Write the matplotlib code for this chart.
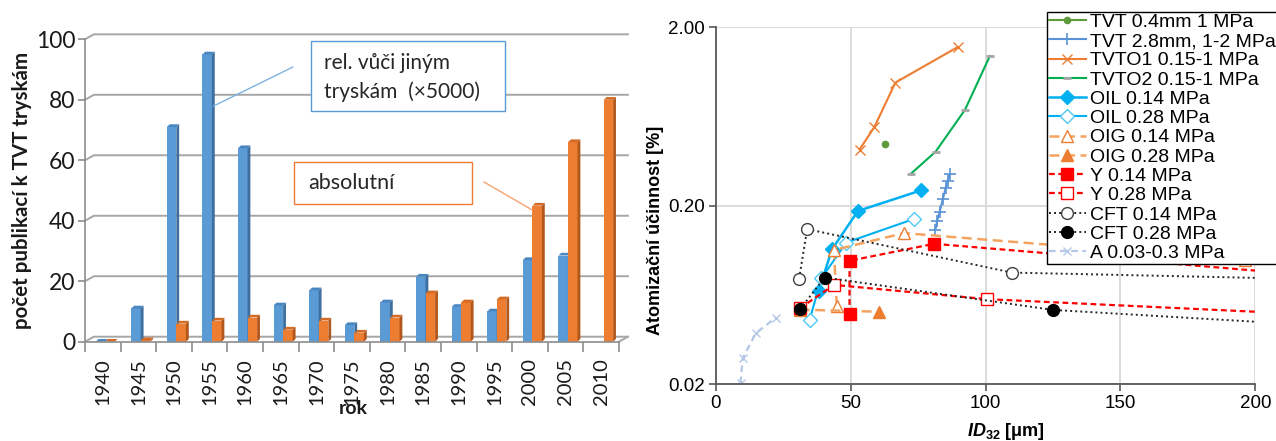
import numpy as np
import matplotlib
matplotlib.use("Agg")
import matplotlib.pyplot as plt
from matplotlib.patches import Polygon, Rectangle
from matplotlib.ticker import NullLocator

plt.rcParams['mathtext.fontset'] = 'custom'
plt.rcParams['mathtext.it'] = 'Liberation Sans:italic:bold'
plt.rcParams['mathtext.rm'] = 'Liberation Sans:bold'

# ---- left chart data (publications per 5 years) ----
years = ['1940', '1945', '1950', '1955', '1960', '1965', '1970', '1975',
         '1980', '1985', '1990', '1995', '2000', '2005', '2010']
rel_vals = [0, 11, 71, 95, 64, 12, 17, 5.5, 13, 21.5, 11.5, 10, 27, 28.5, np.nan]
abs_vals = [0, 0.5, 6, 7, 8, 4, 7, 3, 8, 16, 13, 14, 45, 66, 80]

# ---- right chart data (atomization efficiency vs ID32) ----
tvt04_x = [62.7]
tvt04_y = [0.445]
tvt28_x = [81.4, 82.1, 83.0, 84.2, 85.2, 86.0, 86.9]
tvt28_y = [0.146, 0.165, 0.185, 0.218, 0.251, 0.276, 0.301]
tvto1_x = [53.3, 58.8, 66.6, 89.7]
tvto1_y = [0.413, 0.552, 0.98, 1.55]
tvto2_x = [72.3, 81.5, 92.4, 101.6]
tvto2_y = [0.302, 0.402, 0.69, 1.38]
oil14_x = [38.2, 43.1, 52.7, 76.1]
oil14_y = [0.067, 0.114, 0.187, 0.244]
oil28_x = [34.8, 39.2, 48.4, 73.6]
oil28_y = [0.0459, 0.0786, 0.1245, 0.169]
oig14_x = [44.9, 43.8, 69.8, 196]
oig14_y = [0.055, 0.113, 0.1406, 0.099]
oig28_x = [31.1, 60.7]
oig28_y = [0.0524, 0.051]
y14_x = [49.6, 49.6, 81.0, 250]
y14_y = [0.0494, 0.0984, 0.1225, 0.075]
y28_x = [31.2, 43.8, 100.4, 250]
y28_y = [0.0533, 0.0721, 0.060, 0.047]
cft14_x = [30.9, 33.9, 109.8, 250]
cft14_y = [0.078, 0.148, 0.0845, 0.076]
cft28_x = [31.2, 40.4, 125.1, 250]
cft28_y = [0.0526, 0.0793, 0.0522, 0.0405]
a_x = [9.2, 10.0, 14.9, 22.3]
a_y = [0.0203, 0.028, 0.0387, 0.0473]

W, H = 1276, 441
fig = plt.figure(figsize=(W / 100, H / 100), dpi=100)


def fx(px):
    return px / W


def fy(py):
    return 1 - py / H


# =================== left: pseudo-3D bar chart ===================
lf = 'Lato'
ax1 = fig.add_axes([fx(85), fy(341.7), fx(619) - fx(85), fy(39.3) - fy(341.7)])
ax1.set_xlim(-0.5, len(years) - 0.5)
ax1.set_ylim(0, 100)
ax1.patch.set_alpha(0)
for s in ['top', 'right']:
    ax1.spines[s].set_visible(False)
for s in ['left', 'bottom']:
    ax1.spines[s].set_color('#8c8c8c')
    ax1.spines[s].set_linewidth(1.2)

dxw, dyw = 0.25, 1.65  # back wall offset
xl0, xl1 = -0.5, len(years) - 0.5
grid_c = '#a6a6a6'
for v in range(0, 101, 20):
    ax1.plot([xl0, xl0 + dxw, xl1 + dxw], [v, v + dyw, v + dyw], color=grid_c,
             lw=1.4, clip_on=False, zorder=0.5)
ax1.plot([xl1, xl1 + dxw], [0, dyw], color=grid_c, lw=1.4, clip_on=False, zorder=0.5)

idx = np.arange(len(years))
bw = 0.265
dxb, dyb = 0.08, 0.9
rel_left = idx - 0.20
abs_left = idx + 0.07


def draw_bars(lefts, vals, front, side, top):
    for l, v in zip(lefts, vals):
        if np.isnan(v):
            continue
        ax1.bar(l, v, width=bw, align='edge', color=front, zorder=2,
                edgecolor='none')
        ax1.add_patch(Polygon([(l + bw, 0), (l + bw + dxb, dyb), (l + bw + dxb, v + dyb),
                               (l + bw, v)], closed=True, facecolor=side,
                              edgecolor='none', zorder=2, clip_on=False))
        ax1.add_patch(Polygon([(l, v), (l + dxb, v + dyb), (l + bw + dxb, v + dyb),
                               (l + bw, v)], closed=True, facecolor=top,
                              edgecolor='none', zorder=2, clip_on=False))


draw_bars(rel_left, rel_vals, '#5b9bd5', '#3f6f9f', '#4a86c0')
draw_bars(abs_left, abs_vals, '#ed7d31', '#b3581d', '#d46a24')

ax1.set_yticks(range(0, 101, 20))
ax1.set_yticklabels([str(v) for v in range(0, 101, 20)], fontfamily=lf, fontsize=16.5,
                    color='#1a1a1a')
ax1.tick_params(axis='y', length=5, width=1.2, color='#8c8c8c', pad=2)
ax1.set_xticks(idx)
ax1.set_xticklabels(years, rotation=90, fontfamily=lf, fontsize=14.5, color='#1a1a1a')
ax1.set_xticks(np.arange(-0.5, len(years)), minor=True)
ax1.tick_params(axis='x', which='major', length=0, pad=12)
ax1.tick_params(axis='x', which='minor', length=7, width=1.2, color='#8c8c8c')

fig.text(fx(22), fy(190), 'počet publikací k TVT tryskám', rotation=90, ha='center',
         va='center', fontfamily=lf, fontweight='bold', fontsize=14.8, color='#1a1a1a')
fig.text(fx(353), fy(408), 'rok', ha='center', va='center', fontfamily=lf,
         fontweight='bold', fontsize=14, color='#1a1a1a')

# call-out boxes
fig.patches.append(Rectangle((fx(311), fy(111)), fx(505) - fx(311), fy(41) - fy(111),
                             transform=fig.transFigure, facecolor='white',
                             edgecolor='#5b9bd5', lw=1, zorder=5))
fig.text(fx(324), fy(63), 'rel. vůči jiným', ha='left', va='center', fontfamily=lf,
         fontsize=15, color='#262626', zorder=6)
fig.text(fx(324), fy(92), 'tryskám  (×5000)', ha='left', va='center', fontfamily=lf,
         fontsize=15, color='#262626', zorder=6)
fig.patches.append(Rectangle((fx(294), fy(204)), fx(472) - fx(294), fy(162) - fy(204),
                             transform=fig.transFigure, facecolor='white',
                             edgecolor='#ed7d31', lw=1, zorder=5))
fig.text(fx(308), fy(183), 'absolutní', ha='left', va='center', fontfamily=lf,
         fontsize=15.5, color='#262626', zorder=6)

ax1.annotate('', xy=(rel_left[3] + bw + dxb * 0.5, rel_vals[3] * 0.82),
             xytext=(fx(293), fy(67)), textcoords='figure fraction',
             arrowprops=dict(arrowstyle='-', color='#7fb2e0', lw=1,
                             shrinkA=0, shrinkB=0))
ax1.annotate('', xy=(abs_left[12], abs_vals[12] - 1.5),
             xytext=(fx(484), fy(182)), textcoords='figure fraction',
             arrowprops=dict(arrowstyle='-', color='#f4a270', lw=1,
                             shrinkA=0, shrinkB=0))

# =================== right: log line chart ===================
rf = 'Liberation Sans'
ax2 = fig.add_axes([fx(715.7), fy(384.3), fx(1255.3) - fx(715.7), fy(27.3) - fy(384.3)])
ax2.set_yscale('log')
ax2.set_xlim(0, 200)
ax2.set_ylim(0.02, 2.0)
ax2.set_yticks([0.02, 0.2, 2.0])
ax2.set_yticklabels(['0.02', '0.20', '2.00'], fontfamily=rf, fontsize=13.5)
ax2.yaxis.set_minor_locator(NullLocator())
ax2.set_xticks([0, 50, 100, 150, 200])
ax2.set_xticklabels(['0', '50', '100', '150', '200'], fontfamily=rf, fontsize=13.5)
ax2.grid(True, which='major', color='#d9d9d9', lw=1.3)
ax2.set_axisbelow(True)
for s in ['top', 'right']:
    ax2.spines[s].set_visible(False)
for s in ['left', 'bottom']:
    ax2.spines[s].set_color('#595959')
    ax2.spines[s].set_linewidth(1.3)
ax2.tick_params(length=5, width=1.2, color='#595959', pad=3)

orange = '#ed7d31'
lorange = '#f4a460'
cyan = '#00b0f0'
ax2.plot(tvt04_x, tvt04_y, color='#5e9a3c', lw=1.5, marker='o', ms=4.5,
         label='TVT 0.4mm 1 MPa')
ax2.plot(tvt28_x, tvt28_y, color='#5b94d6', lw=1.5, marker='+', ms=8, mew=1.2,
         label='TVT 2.8mm, 1-2 MPa')
ax2.plot(tvto1_x, tvto1_y, color=orange, lw=1.5, marker='x', ms=7, mew=1,
         label='TVTO1 0.15-1 MPa')
ax2.plot(tvto2_x, tvto2_y, color='#00b050', lw=1.5, marker='_', ms=6, mew=2,
         mec='#a6a6a6', label='TVTO2 0.15-1 MPa')
ax2.plot(oil14_x, oil14_y, color=cyan, lw=1.8, marker='D', ms=7, label='OIL 0.14 MPa')
ax2.plot(oil28_x, oil28_y, color=cyan, lw=1.5, marker='D', ms=7, mfc='white',
         mec='#4fc8f5', label='OIL 0.28 MPa')
ax2.plot(oig14_x, oig14_y, color=lorange, lw=1.8, dashes=(4, 2.2), marker='^', ms=9,
         mfc='white', mec=orange, mew=1, label='OIG 0.14 MPa')
ax2.plot(oig28_x, oig28_y, color=lorange, lw=1.8, dashes=(4, 2.2), marker='^', ms=9,
         mfc=orange, mec=orange, label='OIG 0.28 MPa')
ax2.plot(y14_x, y14_y, color='#ff0000', lw=1.6, dashes=(2.6, 1.6), marker='s', ms=8,
         label='Y 0.14 MPa')
ax2.plot(y28_x, y28_y, color='#ff0000', lw=1.6, dashes=(2.6, 1.6), marker='s', ms=8,
         mfc='white', mew=1, label='Y 0.28 MPa')
ax2.plot(cft14_x, cft14_y, color='#262626', lw=1.4, ls=(0, (1, 1.6)), marker='o', ms=8.5,
         mfc='white', mec='#404040', mew=1, label='CFT 0.14 MPa')
ax2.plot(cft28_x, cft28_y, color='#262626', lw=1.4, ls=(0, (1, 1.6)), marker='o', ms=8.5,
         mfc='black', mec='black', label='CFT 0.28 MPa')
ax2.plot(a_x, a_y, color='#b4c7e7', lw=1.6, dashes=(3, 2), marker='x', ms=6, mew=1,
         label='A 0.03-0.3 MPa')

ax2.set_xlabel(r'$ID_{32}$ [μm]', fontfamily=rf, fontweight='bold', fontsize=13)
ax2.xaxis.set_label_coords((1006 - 715.7) / 539.6, (384.3 - 432) / 357)
ax2.xaxis.label.set_va('center')
ax2.set_ylabel('Atomizační účinnost [%]', fontfamily=rf, fontweight='bold', fontsize=13)
ax2.yaxis.set_label_coords((655 - 715.7) / 539.6, (384.3 - 230) / 357)
ax2.yaxis.label.set_va('center')

leg = ax2.legend(loc='upper left', bbox_to_anchor=(fx(1047), fy(11.7)),
                 bbox_transform=fig.transFigure, borderaxespad=0,
                 prop={'family': rf, 'size': 14}, labelspacing=0.085,
                 handlelength=1.9, handletextpad=0.25, borderpad=0.08,
                 frameon=True, fancybox=False, framealpha=1)
leg.get_frame().set_edgecolor('black')
leg.get_frame().set_linewidth(1)
leg.set_zorder(10)

fig.savefig('out.png', dpi=100)
